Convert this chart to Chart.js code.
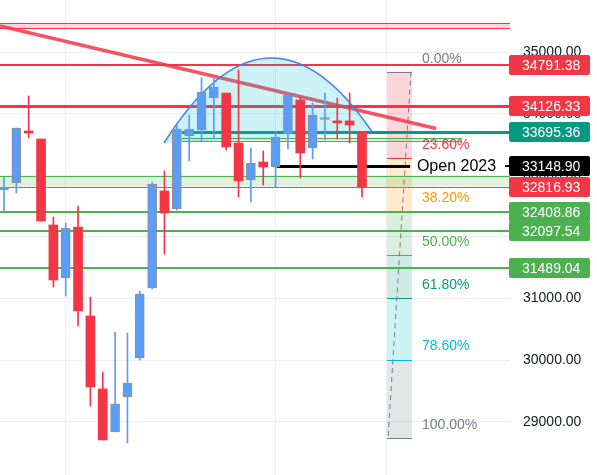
<!DOCTYPE html>
<html lang="en">
<head>
<meta charset="UTF-8">
<title>Weekly candles</title>
<style>
    body { margin: 0; background: #fff; }
    #wrap { width: 597px; height: 475px; }
</style>
</head>
<body>
<div id="wrap"><canvas id="chart"></canvas></div>
<script src="https://cdn.jsdelivr.net/npm/chart.js"></script>
<script>
    // candles (index on x axis)
    const opens  = [32761, 32875, 33719, 33589, 32193, 31333, 32161, 30716, 29532, 28834, 29401, 30034, 31170, 32745, 32453, 33637, 33735, 34254, 34335, 33524, 32923, 33215, 33134, 33670, 34222, 33443, 33905, 33880, 33881, 33702];
    const highs  = [32972, 33767, 34287, 33589, 32323, 32226, 32501, 31025, 29807, 30456, 30440, 31122, 32891, 33069, 33816, 33978, 34579, 34595, 34335, 34709, 33443, 33394, 33702, 34335, 34270, 34173, 34335, 34254, 34335, 33702];
    const lows   = [32404, 32712, 33605, 32258, 31187, 31041, 30554, 29255, 28704, 28834, 28655, 30002, 31154, 31722, 32436, 33232, 33556, 33589, 33410, 32647, 32566, 32842, 32810, 33426, 32956, 33264, 33573, 33589, 33524, 32647];
    const closes = [32810, 33767, 33686, 32258, 31300, 32144, 30797, 29564, 28704, 29288, 29629, 31073, 32858, 32388, 33751, 33751, 34352, 34433, 33459, 32907, 33199, 33134, 33621, 34303, 33362, 33978, 33915, 33850, 33816, 32810];

    const yTicks = [29000, 30000, 31000, 32000, 33000, 34000, 35000];
    const xGrid = [5, 22, 31];

    // drawings
    const levelPrices = [34791.38, 34126.33, 33695.36, 33148.90, 32816.93, 32408.86, 32097.54, 31489.04];
    const fibRatios = [0, 0.236, 0.382, 0.5, 0.618, 0.786, 1];
    const fibHigh = 34681, fibLow = 28736;
    const topZone = [35476, 35385];
    const greenZone = [32988, 32816.93];
    const thinZone = [33610, 33556];
    const trendStart = [-0.32, 35423], trendEnd = [35.0, 33759];
    const arcStart = [12.96, 33524], arcPeak = [21.42, 34903], arcEnd = [29.88, 33686];

    const RED = '#f23645', BLUE = '#5b9cf6', GREEN = '#4caf50', TEAL = '#089981';
    const FONT = '"Liberation Sans", Arial, sans-serif';

    const ups = closes.map((c, i) => c >= opens[i]);
    const wickData = highs.map((h, i) => ({x: i, y: [lows[i], h]}));
    const bodyData = opens.map((o, i) => ({x: i, y: [o, closes[i]]}));

    const overlay = {
        id: 'overlay',
        beforeDatasetsDraw(chart) {
            const {ctx, chartArea: a, scales: {x, y}} = chart;
            const px = i => x.getPixelForValue(i);
            const py = v => y.getPixelForValue(v);
            const hline = (v, x0, x1, color, w, dash) => {
                ctx.beginPath();
                ctx.setLineDash(dash || []);
                ctx.strokeStyle = color;
                ctx.lineWidth = w;
                const yy = Math.round(py(v)) + (w % 2 ? 0.5 : 0);
                ctx.moveTo(x0, yy);
                ctx.lineTo(x1, yy);
                ctx.stroke();
                ctx.setLineDash([]);
            };
            ctx.save();
            ctx.beginPath();
            ctx.rect(a.left, a.top, a.width, a.height);
            ctx.clip();

            // fib retracement box
            const fx0 = px(31.03), fx1 = px(33.05);
            const fibFills = ['rgba(242,54,69,0.2)', 'rgba(255,152,0,0.2)', 'rgba(76,175,80,0.2)', 'rgba(8,153,129,0.2)', 'rgba(0,188,212,0.2)', 'rgba(120,123,134,0.2)'];
            const fibLines = ['#787b86', RED, '#ff9800', GREEN, TEAL, '#00bcd4', '#787b86'];
            const fibVal = r => fibHigh - r * (fibHigh - fibLow);
            for (let k = 0; k < fibRatios.length - 1; k++) {
                const y0 = py(fibVal(fibRatios[k])), y1 = py(fibVal(fibRatios[k + 1]));
                ctx.fillStyle = fibFills[k];
                ctx.fillRect(fx0, y0, fx1 - fx0, y1 - y0);
            }
            fibRatios.forEach((r, k) => hline(fibVal(r), fx0, fx1, fibLines[k], 1));
            ctx.beginPath();
            ctx.setLineDash([5, 4]);
            ctx.strokeStyle = '#787b86';
            ctx.lineWidth = 1;
            ctx.moveTo(fx1 - 1, py(fibHigh));
            ctx.lineTo(fx0 + 1, py(fibLow));
            ctx.stroke();
            ctx.setLineDash([]);

            // zones
            ctx.fillStyle = 'rgba(242,54,69,0.2)';
            ctx.fillRect(a.left, py(topZone[0]), a.width, py(topZone[1]) - py(topZone[0]));
            hline(topZone[0], a.left, a.right, RED, 1);
            hline(topZone[1], a.left, a.right, RED, 1);

            ctx.fillStyle = 'rgba(76,175,80,0.18)';
            ctx.fillRect(a.left, py(greenZone[0]), a.width, py(greenZone[1]) - py(greenZone[0]));
            hline(greenZone[0], a.left, a.right, GREEN, 1);
            hline(greenZone[1], a.left, a.right, GREEN, 1);

            const tz0 = px(14.4), tz1 = px(37.1);
            ctx.fillStyle = 'rgba(76,175,80,0.18)';
            ctx.fillRect(tz0, py(thinZone[0]), tz1 - tz0, py(thinZone[1]) - py(thinZone[0]));
            hline(thinZone[0], tz0, tz1, GREEN, 1);
            hline(thinZone[1], tz0, tz1, GREEN, 1);

            // horizontal levels
            hline(levelPrices[0], a.left, a.right, RED, 2);
            hline(levelPrices[1], a.left, a.right, RED, 3);
            hline(levelPrices[2], px(14.4), a.right, TEAL, 3);
            hline(levelPrices[3], px(22.1), px(32.9), '#000', 3);
            hline(levelPrices[3], a.right - 5, a.right, '#000', 2);
            hline(levelPrices[4], a.left, a.right, RED, 1, [2, 2]);
            hline(levelPrices[5], a.left, a.right, GREEN, 2);
            hline(levelPrices[6], a.left, a.right, GREEN, 2);
            hline(levelPrices[7], a.left, a.right, GREEN, 2);

            // trend line
            ctx.beginPath();
            ctx.strokeStyle = 'rgba(242,54,69,0.85)';
            ctx.lineWidth = 3.5;
            ctx.moveTo(px(trendStart[0]), py(trendStart[1]));
            ctx.lineTo(px(trendEnd[0]), py(trendEnd[1]));
            ctx.stroke();

            // arc through three anchors
            const p0 = [px(arcStart[0]), py(arcStart[1])];
            const p1 = [px(arcPeak[0]), py(arcPeak[1])];
            const p2 = [px(arcEnd[0]), py(arcEnd[1])];
            const c = [2 * p1[0] - (p0[0] + p2[0]) / 2, 2 * p1[1] - (p0[1] + p2[1]) / 2];
            ctx.beginPath();
            ctx.moveTo(p0[0], p0[1]);
            ctx.quadraticCurveTo(c[0], c[1], p2[0], p2[1]);
            ctx.closePath();
            ctx.fillStyle = 'rgba(0,188,212,0.2)';
            ctx.fill();
            ctx.beginPath();
            ctx.moveTo(p0[0], p0[1]);
            ctx.quadraticCurveTo(c[0], c[1], p2[0], p2[1]);
            ctx.strokeStyle = '#3f7ff5';
            ctx.lineWidth = 1.5;
            ctx.stroke();

            ctx.restore();
        },
        afterDraw(chart) {
            const {ctx, chartArea: a, scales: {x, y}} = chart;
            const px = i => x.getPixelForValue(i);
            const py = v => y.getPixelForValue(v);
            ctx.save();

            // fib labels
            const fibText = ['#787b86', RED, '#ff9800', GREEN, TEAL, '#00bcd4', '#787b86'];
            ctx.font = '14px ' + FONT;
            ctx.textAlign = 'left';
            ctx.textBaseline = 'middle';
            fibRatios.forEach((r, k) => {
                ctx.fillStyle = fibText[k];
                ctx.fillText((r * 100).toFixed(2) + '%', px(33.86), py(fibHigh - r * (fibHigh - fibLow)) - 13);
            });

            ctx.fillStyle = '#000';
            ctx.font = '16px ' + FONT;
            ctx.fillText('Open 2023', px(33.45), py(levelPrices[3]));

            // price labels on the axis
            const boxColors = [RED, RED, TEAL, '#000', RED, GREEN, GREEN, GREEN];
            ctx.font = '14px ' + FONT;
            levelPrices.forEach((p, k) => {
                const yy = Math.round(py(p));
                ctx.fillStyle = boxColors[k];
                ctx.beginPath();
                ctx.roundRect(a.right - 1, yy - 10, 81, 20, 2);
                ctx.fill();
                ctx.fillStyle = '#fff';
                ctx.fillText(p.toFixed(2), a.right + 12, yy + 1);
            });
            ctx.restore();
        }
    };

    new Chart(document.getElementById('chart'), {
        type: 'bar',
        data: {
            datasets: [
                {
                    label: 'bodies',
                    data: bodyData,
                    backgroundColor: ups.map(u => u ? BLUE : RED),
                    borderColor: ups.map(u => u ? '#909090' : RED),
                    borderWidth: ups.map(u => u ? 1 : 0),
                    borderSkipped: false,
                    barThickness: 9,
                    minBarLength: 2,
                    grouped: false,
                    order: 0
                },
                {
                    label: 'wicks',
                    data: wickData,
                    backgroundColor: ups.map(u => u ? BLUE : RED),
                    barThickness: 1,
                    grouped: false,
                    order: 1
                }
            ]
        },
        options: {
            responsive: true,
            maintainAspectRatio: false,
            animation: false,
            layout: { padding: 0 },
            plugins: { legend: { display: false }, tooltip: { enabled: false } },
            scales: {
                x: {
                    type: 'linear',
                    offset: false,
                    min: -0.324,
                    max: 40.99,
                    border: { display: false },
                    grid: { color: '#eeeeee', drawTicks: false, offset: false },
                    ticks: { display: false },
                    afterBuildTicks: s => { s.ticks = xGrid.map(v => ({value: v})); },
                    afterFit: s => { s.height = 0; s.paddingLeft = 0; s.paddingRight = 0; }
                },
                y: {
                    position: 'right',
                    min: 28135,
                    max: 35845,
                    border: { display: false },
                    grid: { color: '#eeeeee', drawTicks: false },
                    ticks: {
                        padding: 13,
                        color: '#131722',
                        font: { size: 14, family: FONT },
                        callback: v => v.toFixed(2)
                    },
                    afterBuildTicks: s => { s.ticks = yTicks.map(v => ({value: v})); },
                    afterFit: s => { s.width = 87; s.paddingTop = 0; s.paddingBottom = 0; }
                }
            }
        },
        plugins: [overlay]
    });
</script>
</body>
</html>
